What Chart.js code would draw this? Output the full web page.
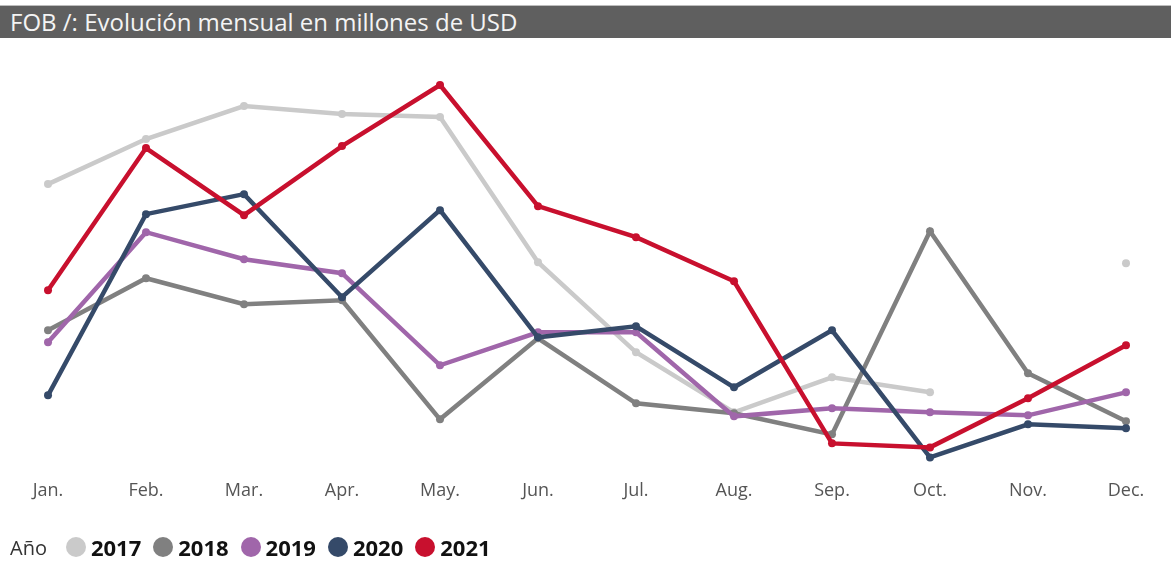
<!DOCTYPE html>
<html>
<head>
<meta charset="utf-8">
<script src="https://cdn.jsdelivr.net/npm/chart.js@4/dist/chart.umd.min.js"></script>
<style>
  html, body { margin: 0; padding: 0; background: #fff; }
  #wrap { position: relative; width: 1171px; height: 561px; overflow: hidden; font-family: "Open Sans", "Noto Sans", sans-serif; }
  #title { position: absolute; left: 0; top: 5px; width: 1171px; height: 33px; background: #5f5f5f;
           border-top: 1px solid #bdbdbd; color: #f4f4f4; font-size: 24px; line-height: 32px; padding-left: 10px; box-sizing: border-box; }
  #chart { position: absolute; left: 0; top: 0; }
  #legend { position: absolute; left: 10px; top: 532px; display: flex; align-items: center; }
  #legend .ttl { color: #333; font-size: 20px; margin-right: 19px; }
  #legend .item { display: flex; align-items: center; margin-right: 12px; }
  #legend .dot { width: 20px; height: 20px; border-radius: 50%; margin-right: 5px; }
  #legend .lbl { font-weight: 700; color: #111; font-size: 22px; }
</style>
</head>
<body>
<div id="wrap">
  <canvas id="chart" width="1171" height="561"></canvas>
  <div id="title">FOB /: Evolución mensual en millones de USD</div>
  <div id="legend"></div>
</div>
<script>
// Months on the horizontal axis
const months = ["Jan.", "Feb.", "Mar.", "Apr.", "May.", "Jun.", "Jul.", "Aug.", "Sep.", "Oct.", "Nov.", "Dec."];
const years = ["2017", "2018", "2019", "2020", "2021"];

// Monthly FOB values (millones de USD)
const fob2017 = [286, 331, 364, 356, 353, 208, 118, 58, 93, 78, null, 207];
const fob2018 = [140, 192, 166, 170, 51, 132, 67, 57, 36, 239, 97, 49];
const fob2019 = [128, 238, 211, 197, 105, 138, 138, 54, 62, 58, 55, 78];
const fob2020 = [75, 256, 276, 173, 260, 133, 144, 83, 140, 13, 46, 42];
const fob2021 = [180, 322, 255, 324, 385, 264, 233, 189, 27, 23, 72, 125];

const colors = ["#cacaca", "#808080", "#a066aa", "#354a69", "#c8102e"];
const series = [fob2017, fob2018, fob2019, fob2020, fob2021];

const datasets = series.map((d, i) => ({
  label: years[i],
  data: d,
  borderColor: colors[i],
  backgroundColor: colors[i],
  borderWidth: 4.5,
  pointRadius: 4,
  pointHoverRadius: 4,
  pointBorderWidth: 0,
  tension: 0,
  spanGaps: false,
  order: 5 - i
}));

new Chart(document.getElementById("chart"), {
  type: "line",
  data: { labels: months, datasets },
  options: {
    responsive: false,
    animation: false,
    layout: { padding: { left: 48, right: 45, top: 60, bottom: 49 } },
    plugins: { legend: { display: false }, tooltip: { enabled: false } },
    scales: {
      x: {
        offset: false,
        grid: { display: false, drawTicks: false },
        border: { display: false },
        ticks: { color: "#555", font: { family: "'Open Sans', 'Noto Sans', sans-serif", size: 18 }, padding: 10, maxRotation: 0, autoSkip: false }
      },
      y: { display: false, min: 0, max: 410 }
    }
  }
});

// Legend row
const legend = document.getElementById("legend");
const t = document.createElement("span");
t.className = "ttl";
t.textContent = "Año";
legend.appendChild(t);
years.forEach((y, i) => {
  const it = document.createElement("span");
  it.className = "item";
  const dot = document.createElement("span");
  dot.className = "dot";
  dot.style.background = colors[i];
  const lbl = document.createElement("span");
  lbl.className = "lbl";
  lbl.textContent = y;
  it.appendChild(dot);
  it.appendChild(lbl);
  legend.appendChild(it);
});
</script>
</body>
</html>
